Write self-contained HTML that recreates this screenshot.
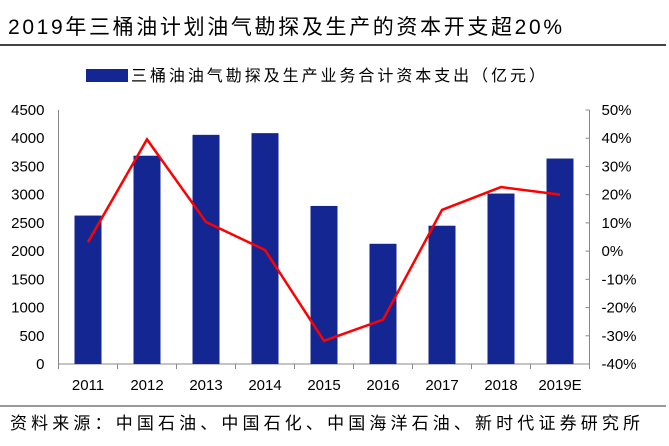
<!DOCTYPE html>
<html><head><meta charset="utf-8"><style>
body{margin:0;background:#fff;width:669px;height:441px;overflow:hidden;font-family:"Liberation Sans","Noto Sans CJK SC",sans-serif}
svg text{font-family:"Liberation Sans","Noto Sans CJK SC",sans-serif}
</style></head><body>
<svg width="669" height="441">
<text x="8" y="34" font-size="21" fill="#000" textLength="554" lengthAdjust="spacing">2019年三桶油计划油气勘探及生产的资本开支超20%</text>
<line x1="0" y1="45" x2="666" y2="45" stroke="#444" stroke-width="2"/>
<g>
<rect x="86" y="69" width="42" height="13" fill="#142691"/>
<text x="131" y="81" font-size="16" fill="#000" textLength="414" lengthAdjust="spacing">三桶油油气勘探及生产业务合计资本支出（亿元）</text>
</g>
<g id="plot"></g>
<line x1="0" y1="406" x2="666" y2="406" stroke="#999" stroke-width="2"/>
<text x="10" y="429" font-size="17" fill="#000" textLength="630" lengthAdjust="spacing">资料来源：中国石油、中国石化、中国海洋石油、新时代证券研究所</text>
</svg>
<script>
const categories=["2011","2012","2013","2014","2015","2016","2017","2018","2019E"];
const capex=[2630,3690,4060,4090,2800,2130,2450,3020,3640];
const growth=[3.2,39.6,10.3,0.4,-31.8,-24.3,14.6,22.7,20.0];
const leftTicks=[0,500,1000,1500,2000,2500,3000,3500,4000,4500];
const rightTicks=[-40,-30,-20,-10,0,10,20,30,40,50];
const NS="http://www.w3.org/2000/svg";
const g=document.getElementById('plot');
const x0=58.5,x1=589.5,yTop=110,yBot=364;
const step=(x1-x0)/categories.length;
const xc=i=>x0+step*(i+0.5);
const yL=v=>yBot-(v/4500)*(yBot-yTop);
const yR=v=>yBot-((v+40)/90)*(yBot-yTop);
function mk(t,a){const e=document.createElementNS(NS,t);for(const k in a)e.setAttribute(k,a[k]);g.appendChild(e);return e;}
let e;
e=mk('line',{x1:x0,y1:yTop,x2:x0,y2:yBot,stroke:'#888'});


e=mk('line',{x1:x1,y1:yTop,x2:x1,y2:yBot,stroke:'#888'});


e=mk('line',{x1:x0,y1:yBot,x2:x1,y2:yBot,stroke:'#888'});


leftTicks.forEach(v=>{
 e=mk('text',{x:x0-14,y:yL(v)+5,'font-size':15,'text-anchor':'end'});e.textContent=v;
 
 
});
rightTicks.forEach(v=>{
 mk('line',{x1:x1,y1:yR(v),x2:x1-4,y2:yR(v),stroke:'#888'});
 e=mk('text',{x:x1+12,y:yR(v)+5,'font-size':15});e.textContent=v+'%';
 
 
});
for(let i=0;i<=categories.length;i++)mk('line',{x1:x0+step*i,y1:yBot,x2:x0+step*i,y2:yBot+5,stroke:'#888'});
categories.forEach((c,i)=>{
 e=mk('rect',{x:xc(i)-13.5,y:yL(capex[i]),width:27,height:yBot-yL(capex[i]),fill:'#142691'});
 
 
 e=mk('text',{x:xc(i),y:yBot+26,'font-size':15,'text-anchor':'middle'});e.textContent=c;
 
 
});
e=mk('polyline',{points:growth.map((v,i)=>xc(i)+','+yR(v)).join(' '),fill:'none',stroke:'#f00','stroke-width':2.5});


</script>
</body></html>
